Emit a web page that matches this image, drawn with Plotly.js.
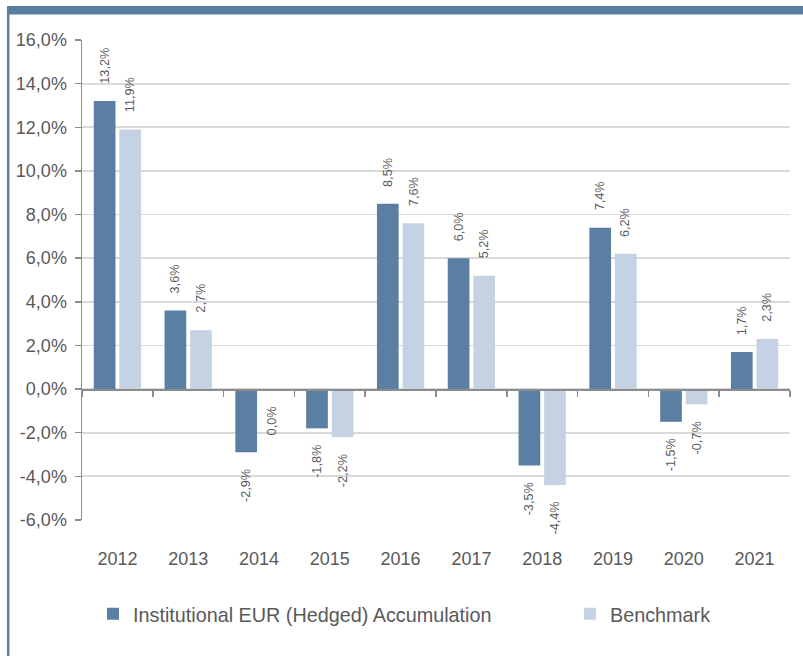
<!DOCTYPE html>
<html>
<head>
<meta charset="utf-8">
<script src="https://cdn.plot.ly/plotly-3.0.1.min.js"></script>
<style>
html,body{margin:0;padding:0;background:#fff;}
#chart{width:803px;height:656px;}
</style>
</head>
<body>
<div id="chart"></div>
<script>
var years = ["2012","2013","2014","2015","2016","2017","2018","2019","2020","2021"];
var fundName = "Institutional EUR (Hedged) Accumulation";
var benchName = "Benchmark";
var fundValues = [13.2, 3.6, -2.9, -1.8, 8.5, 6.0, -3.5, 7.4, -1.5, 1.7];
var benchValues = [11.9, 2.7, 0.0, -2.2, 7.6, 5.2, -4.4, 6.2, -0.7, 2.3];
var yTicks = [-6, -4, -2, 0, 2, 4, 6, 8, 10, 12, 14, 16];

var FONT = 'Arial, "Liberation Sans", sans-serif';
var TXT = '#595959';
var DARK = '#5b7fa3';
var LIGHT = '#c4d2e4';

function fmt(v){ return v.toFixed(1).replace('.', ',') + '%'; }

var traces = [
  {type:'bar', name: fundName, x: years, y: fundValues, marker:{color: DARK}, hoverinfo:'skip', legend:'legend'},
  {type:'bar', name: benchName, x: years, y: benchValues, marker:{color: LIGHT}, hoverinfo:'skip', legend:'legend2'},
  {type:'scatter', mode:'none', x: years, y: years.map(function(){return 0;}), xaxis:'x2', yaxis:'y', showlegend:false, hoverinfo:'skip'}
];

var annotations = [];
function addLabels(vals, shift){
  vals.forEach(function(v, i){
    var pos = v > 0;
    annotations.push({
      x: i, y: v, xref:'x', yref:'y',
      text: fmt(v), showarrow:false, textangle:-90,
      xshift: shift, yshift: pos ? 15 : -15,
      yanchor: pos ? 'bottom' : 'top', xanchor:'center',
      font:{family: FONT, size: 12.7, color: TXT}
    });
  });
}
addLabels(fundValues, -12.8);
addLabels(benchValues, 12.8);

var L = 82, R = 790, T = 40, B = 520, W = 803, H = 656;
function px(x){ return (x - L) / (R - L); }
function py(y){ return (B - y) / (B - T); }

var shapes = [
  {type:'rect', xref:'paper', yref:'paper', x0: px(7), x1: px(803), y0: py(14.5), y1: py(6), fillcolor: DARK, line:{width:0}, layer:'above'},
  {type:'line', xref:'paper', yref:'paper', x0: px(8.2), x1: px(8.2), y0: py(6), y1: py(660), line:{color: DARK, width:2.5}}
];

var legendFont = {family: FONT, size: 19.8, color: TXT};

var layout = {
  width: W, height: H,
  margin: {l: L, r: W - R, t: T, b: H - B, pad: 0},
  paper_bgcolor:'#fff', plot_bgcolor:'#fff',
  font: {family: FONT, color: TXT, size: 18},
  separators: ',.',
  barmode:'group', bargap: 0.277, bargroupgap: 0.152,
  showlegend: true,
  legend: {orientation:'h', x: px(93), xanchor:'left', y: py(614), yanchor:'middle',
           font: legendFont, bgcolor:'rgba(0,0,0,0)'},
  legend2: {orientation:'h', x: px(570), xanchor:'left', y: py(614), yanchor:'middle',
           font: legendFont, bgcolor:'rgba(0,0,0,0)'},
  xaxis: {type:'category', range:[-0.5, 9.5], autorange:false,
          showgrid:false, zeroline:false, showline:false, ticks:'',
          ticklabelstandoff: 26, tickfont:{family: FONT, size: 18, color: TXT}, fixedrange:true},
  xaxis2: {type:'category', range:[-0.5, 9.5], autorange:false,
           overlaying:'x', anchor:'free', position: 6/22, side:'bottom',
           showgrid:false, zeroline:false, showline:true, linecolor:'#8c8c8c', linewidth:1.5,
           ticks:'outside', tickson:'boundaries', ticklen:6, tickwidth:1.5, tickcolor:'#8c8c8c',
           showticklabels:false, fixedrange:true},
  yaxis: {range:[-6, 16], autorange:false, tickvals: yTicks, ticktext: yTicks.map(function(v){return fmt(v);}),
          showgrid:true, gridcolor:'#d9d9d9', gridwidth:1.8,
          zeroline:false, showline:true, linecolor:'#8c8c8c', linewidth:1.5,
          ticks:'outside', ticklen:6, tickwidth:1.5, tickcolor:'#8c8c8c',
          ticklabelstandoff: 4, tickfont:{family: FONT, size: 18, color: TXT}, fixedrange:true},
  annotations: annotations,
  shapes: shapes
};

Plotly.newPlot('chart', traces, layout, {displayModeBar:false, staticPlot:true});
</script>
</body>
</html>
